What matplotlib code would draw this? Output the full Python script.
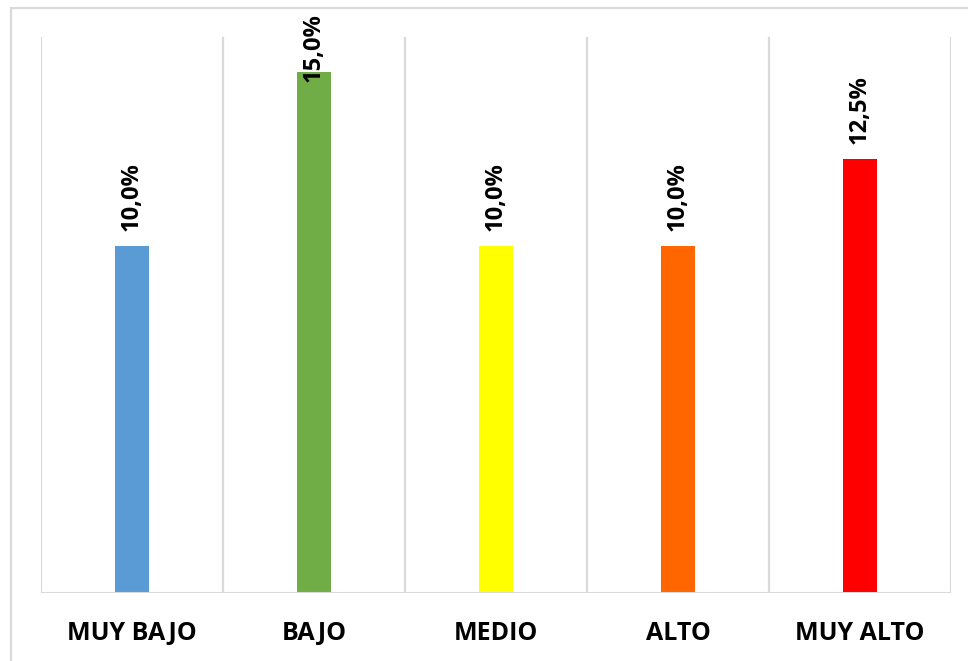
import matplotlib.pyplot as plt
from matplotlib.patches import Rectangle

# Data
categories = ['MUY BAJO', 'BAJO', 'MEDIO', 'ALTO', 'MUY ALTO']
values = [10.0, 15.0, 10.0, 10.0, 12.5]
colors = ['#5B9BD5', '#70AD47', '#FFFF00', '#FF6600', '#FF0000']

GRID = '#D9D9D9'
FONT = 'Open Sans'

fig = plt.figure(figsize=(9.68, 6.61), dpi=100)
ax = fig.add_axes([41 / 968, 1 - 593 / 661, 910 / 968, 556 / 661])

x = list(range(len(categories)))
ax.bar(x, values, width=0.187, color=colors, zorder=3)

ax.set_xlim(-0.5, len(categories) - 0.5)
ax.set_ylim(0, 16)

# vertical separators between categories
for b in [i - 0.5 for i in range(len(categories) + 1)]:
    ax.axvline(b, color=GRID, lw=1.6, zorder=1)
ax.axhline(0, color=GRID, lw=2.2, zorder=4)

for s in ax.spines.values():
    s.set_visible(False)
ax.set_yticks([])
ax.set_xticks(x)
ax.set_xticklabels(categories, fontsize=18, fontweight='bold', family=FONT)
ax.tick_params(axis='x', length=0, pad=20)

# value labels, rotated; the tallest is pushed down to stay inside the frame
for xi, v in zip(x, values):
    y = min(v + 0.42, 14.7)
    ax.text(xi, y, f'{v:.1f}%'.replace('.', ','), rotation=90, ha='center',
            va='bottom', fontsize=17, fontweight='bold', family=FONT,
            zorder=5, clip_on=False)

# outer chart frame
fig.patches.append(Rectangle((11 / 968, -0.05), 1.0, 1 - 8 / 661 + 0.05,
                             transform=fig.transFigure, fill=False,
                             edgecolor=GRID, lw=1.6))

fig.savefig('out.png', dpi=100)
